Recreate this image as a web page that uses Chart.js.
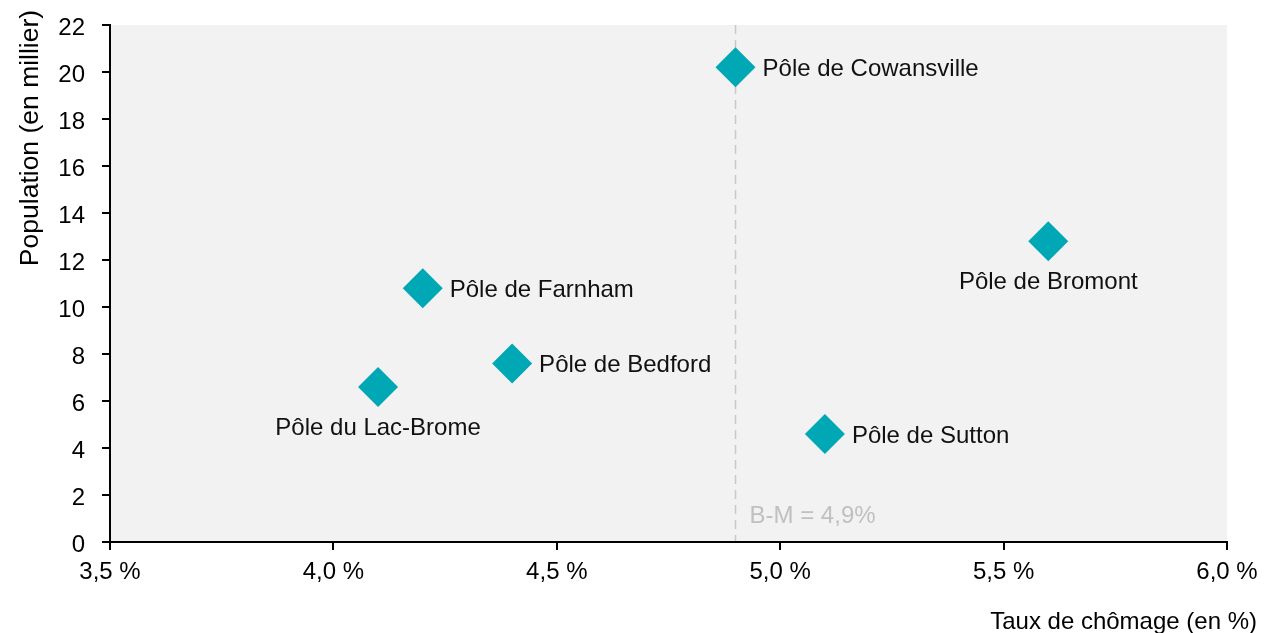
<!DOCTYPE html>
<html><head><meta charset="utf-8">
<script src="https://cdn.jsdelivr.net/npm/chart.js@4.4.1/dist/chart.umd.min.js"></script>
<style>html,body{margin:0;padding:0;background:#fff;}#wrap{width:1279px;height:633px;}</style>
</head><body><div id="wrap"><canvas id="c" width="1279" height="633"></canvas></div>
<script>
const poles = ["Pôle de Cowansville","Pôle de Bromont","Pôle de Farnham","Pôle de Bedford","Pôle du Lac-Brome","Pôle de Sutton"];
const chomage = [4.9, 5.6, 4.2, 4.4, 4.1, 5.1];
const population = [20.2, 12.8, 10.8, 7.6, 6.6, 4.6];
const labelSide = ["right","below","right","right","below","right"];
const refValue = 4.9;
const refLabel = "B-M = 4,9%";
const xTitle = "Taux de chômage (en %)";
const yTitle = "Population (en millier)";

const FONT = "Liberation Sans, Arial, sans-serif";
const FS = 24;

const plugin = {
  id: 'custom',
  beforeDraw(chart) {
    const {ctx, chartArea: a} = chart;
    ctx.save();
    ctx.fillStyle = '#f2f2f2';
    ctx.fillRect(a.left, a.top, a.right - a.left, a.bottom - a.top);
    const x = chart.scales.x.getPixelForValue(refValue);
    ctx.strokeStyle = '#c8c8c8';
    ctx.lineWidth = 1.5;
    ctx.setLineDash([9, 6]);
    ctx.beginPath();
    ctx.moveTo(x, a.top);
    ctx.lineTo(x, a.bottom);
    ctx.stroke();
    ctx.setLineDash([]);
    ctx.fillStyle = '#c0c0c0';
    ctx.font = FS + 'px ' + FONT;
    ctx.textAlign = 'left';
    ctx.textBaseline = 'middle';
    ctx.fillText(refLabel, x + 14, 516);
    ctx.restore();
  },
  afterDatasetsDraw(chart) {
    const {ctx} = chart;
    const meta = chart.getDatasetMeta(0);
    ctx.save();
    ctx.fillStyle = '#111';
    ctx.font = FS + 'px ' + FONT;
    ctx.textBaseline = 'middle';
    meta.data.forEach((pt, i) => {
      if (labelSide[i] === 'right') {
        ctx.textAlign = 'left';
        ctx.fillText(poles[i], pt.x + 27, pt.y + 2);
      } else {
        ctx.textAlign = 'center';
        ctx.fillText(poles[i], pt.x, pt.y + 41);
      }
    });
    ctx.fillStyle = '#000';
    ctx.textAlign = 'right';
    ctx.fillText(xTitle, 1257, 622);
    ctx.font = '26.5px ' + FONT;
    ctx.translate(31, 138);
    ctx.rotate(-Math.PI / 2);
    ctx.textAlign = 'center';
    ctx.fillText(yTitle, 0, 0);
    ctx.restore();
  }
};

new Chart(document.getElementById('c'), {
  type: 'scatter',
  data: {
    datasets: [{
      data: chomage.map((v, i) => ({x: v, y: population[i]})),
      pointStyle: 'rectRot',
      pointRadius: 20,
      pointHoverRadius: 20,
      backgroundColor: '#00a8b5',
      borderWidth: 0
    }]
  },
  options: {
    responsive: false,
    animation: false,
    devicePixelRatio: 1,
    layout: {padding: {top: 25, right: 52, left: 0, bottom: 0}},
    plugins: {legend: {display: false}, tooltip: {enabled: false}},
    scales: {
      x: {
        type: 'linear', min: 3.5, max: 6.0,
        afterFit(s) { s.height = 91; s.paddingLeft = 0; s.paddingRight = 0; },
        border: {color: '#000', width: 2},
        grid: {drawOnChartArea: false, drawTicks: true, tickLength: 8, color: '#000', lineWidth: 2},
        ticks: {stepSize: 0.5, padding: 8, color: '#000', font: {family: FONT, size: FS},
          callback: v => v.toFixed(1).replace('.', ',') + ' %'}
      },
      y: {
        type: 'linear', min: 0, max: 22,
        afterFit(s) { s.width = 110; s.paddingTop = 0; s.paddingBottom = 0; },
        border: {color: '#000', width: 2},
        grid: {drawOnChartArea: false, drawTicks: true, tickLength: 8, color: '#000', lineWidth: 2},
        ticks: {stepSize: 2, padding: 17, labelOffset: 3, color: '#000', font: {family: FONT, size: FS}}
      }
    }
  },
  plugins: [plugin]
});
</script></body></html>
